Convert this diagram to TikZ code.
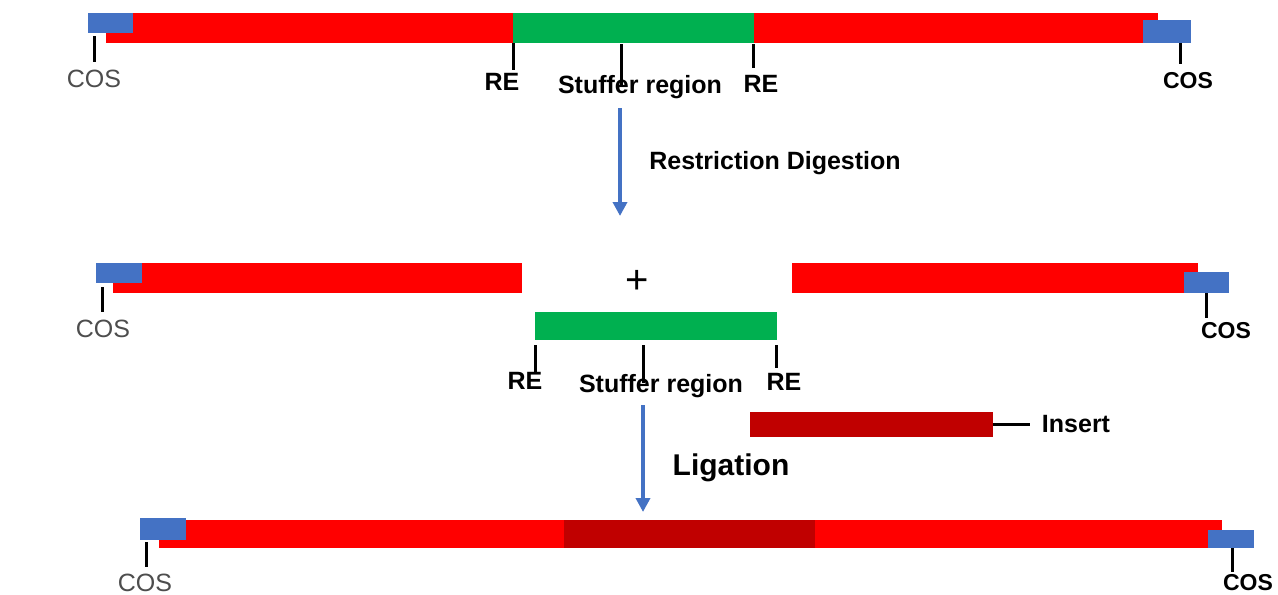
\documentclass[tikz,border=0pt]{standalone}
\usepackage{fontspec}
\setmainfont{Liberation Sans}
\usetikzlibrary{arrows.meta}
\definecolor{cosblue}{HTML}{4472C4}
\definecolor{armred}{HTML}{FF0000}
\definecolor{stuffgreen}{HTML}{00B050}
\definecolor{insred}{HTML}{C00000}
\definecolor{cosgray}{HTML}{4D4D4D}

\begin{document}
\begin{tikzpicture}[x=0.5pt,y=-0.5pt,
  lbl/.style={font=\fontsize{12.5}{14}\selectfont\bfseries, inner sep=0pt, anchor=base},
  coslbl/.style={font=\fontsize{12.5}{14}\selectfont, text=cosgray, inner sep=0pt, anchor=base},
  cosrlbl/.style={font=\fontsize{11.5}{14}\selectfont\bfseries, inner sep=0pt, anchor=base},
  biglbl/.style={font=\fontsize{15}{17}\selectfont\bfseries, inner sep=0pt, anchor=base},
  tick/.style={line width=1.5pt, black},
  flow/.style={line width=2pt, cosblue, -{Triangle[width=7pt,length=7pt]}},
]
\useasboundingbox (0,0) rectangle (1278,594);

% ---------- vector with stuffer ----------
\fill[armred] (106,13) rectangle (513,43);
\fill[stuffgreen] (513,13) rectangle (754,43);
\fill[armred] (754,13) rectangle (1158,43);
\fill[cosblue] (88,13) rectangle (133,33);
\fill[cosblue] (1143,20) rectangle (1191,43);

\node[coslbl] (cosA) at (94,87) {COS};
\node[lbl] (reA1) at (502,90) {RE};
\node[lbl] (stA) at (640,93) {Stuffer region};
\node[lbl] (reA2) at (761,92) {RE};
\node[cosrlbl] (cosB) at (1188,88) {COS};

\coordinate (tA1) at (94,36);   \coordinate (eA1) at (94,62);
\coordinate (tA2) at (513,43);  \coordinate (eA2) at (513,70);
\coordinate (tA3) at (621,44);  \coordinate (eA3) at (621,87);
\coordinate (tA4) at (753,44);  \coordinate (eA4) at (753,68);
\coordinate (tA5) at (1180,43); \coordinate (eA5) at (1180,64);
\draw[tick] (tA1) -- (eA1);
\draw[tick] (tA2) -- (eA2);
\draw[tick] (tA3) -- (eA3);
\draw[tick] (tA4) -- (eA4);
\draw[tick] (tA5) -- (eA5);

% ---------- digestion step ----------
\coordinate (d1) at (620,108);
\coordinate (d2) at (620,216);
\draw[flow] (d1) -- (d2);
\node[lbl] (dig) at (775,169) {Restriction Digestion};

% ---------- digested fragments ----------
\fill[armred] (113,263) rectangle (522,293);
\fill[cosblue] (96,263) rectangle (142,283);
\fill[armred] (792,263) rectangle (1198,293);
\fill[cosblue] (1184,272) rectangle (1229,293);
\fill[stuffgreen] (535,312) rectangle (777,340);

\node[font=\fontsize{20}{22}\selectfont, inner sep=0pt] (plus) at (637,282) {+};
\node[coslbl] (cosC) at (103,337) {COS};
\node[cosrlbl] (cosD) at (1226,338) {COS};
\node[lbl] (reC1) at (525,389) {RE};
\node[lbl] (stC) at (661,392) {Stuffer region};
\node[lbl] (reC2) at (784,390) {RE};

\coordinate (tC1) at (102,287);  \coordinate (eC1) at (102,312);
\coordinate (tC2) at (535,345);  \coordinate (eC2) at (535,373);
\coordinate (tC3) at (643,345);  \coordinate (eC3) at (643,383);
\coordinate (tC4) at (776,345);  \coordinate (eC4) at (776,368);
\coordinate (tC5) at (1206,293); \coordinate (eC5) at (1206,318);
\draw[tick] (tC1) -- (eC1);
\draw[tick] (tC2) -- (eC2);
\draw[tick] (tC3) -- (eC3);
\draw[tick] (tC4) -- (eC4);
\draw[tick] (tC5) -- (eC5);

% ---------- insert ----------
\fill[insred] (750,412) rectangle (993,437);
\node[lbl] (ins) at (1076,432) {Insert};
\coordinate (iA) at (993,424);
\coordinate (iB) at (1030,424);
\draw[tick] (iA) -- (iB);

% ---------- ligation step ----------
\coordinate (l1) at (643,405);
\coordinate (l2) at (643,512);
\draw[flow] (l1) -- (l2);
\node[biglbl] (lig) at (731,475) {Ligation};

% ---------- recombinant vector ----------
\fill[armred] (159,520) rectangle (1222,548);
\fill[insred] (564,520) rectangle (815,548);
\fill[cosblue] (140,518) rectangle (186,540);
\fill[cosblue] (1208,530) rectangle (1254,548);

\node[coslbl] (cosE) at (145,591) {COS};
\node[cosrlbl] (cosF) at (1248,590) {COS};
\coordinate (tE1) at (146,542);  \coordinate (eE1) at (146,567);
\coordinate (tE2) at (1232,548); \coordinate (eE2) at (1232,572);
\draw[tick] (tE1) -- (eE1);
\draw[tick] (tE2) -- (eE2);
\end{tikzpicture}
\end{document}
